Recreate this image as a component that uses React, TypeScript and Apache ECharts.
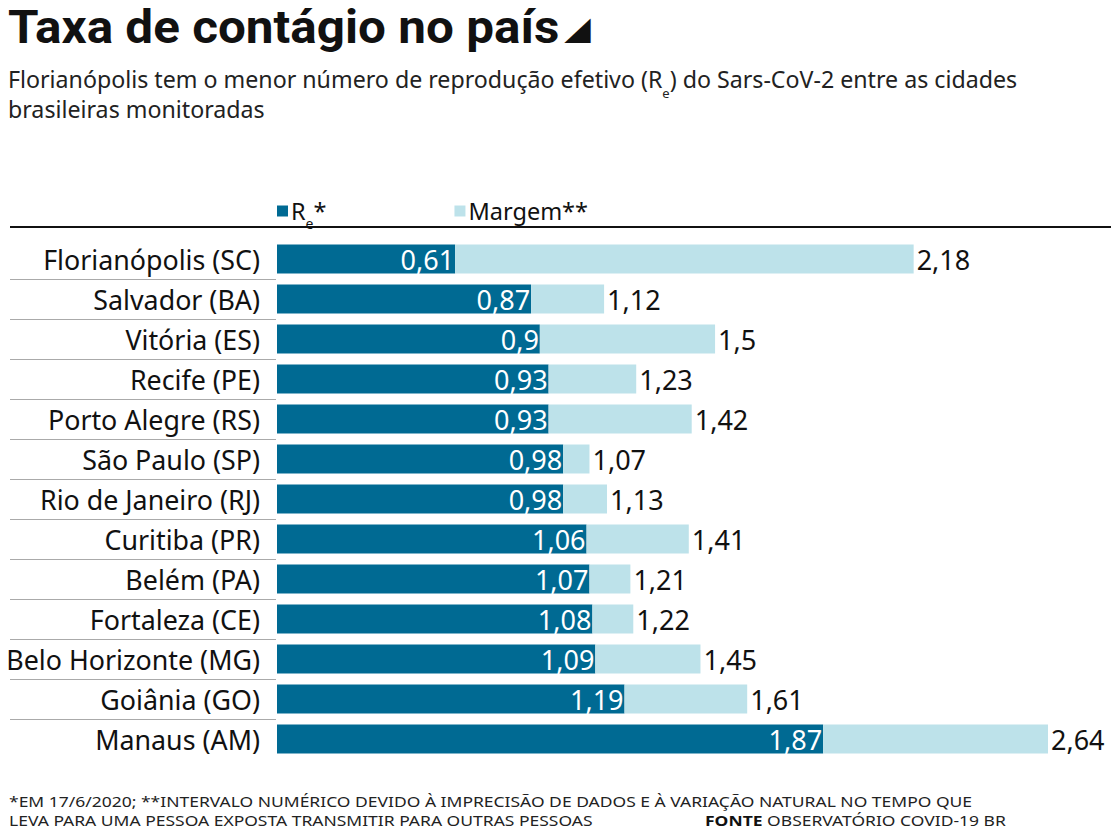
import React, { useEffect, useRef } from "react";
import * as echarts from "echarts";

const cities = [
  "Florianópolis (SC)",
  "Salvador (BA)",
  "Vitória (ES)",
  "Recife (PE)",
  "Porto Alegre (RS)",
  "São Paulo (SP)",
  "Rio de Janeiro (RJ)",
  "Curitiba (PR)",
  "Belém (PA)",
  "Fortaleza (CE)",
  "Belo Horizonte (MG)",
  "Goiânia (GO)",
  "Manaus (AM)",
];
const reValues = [0.61, 0.87, 0.9, 0.93, 0.93, 0.98, 0.98, 1.06, 1.07, 1.08, 1.09, 1.19, 1.87];
const upperValues = [2.18, 1.12, 1.5, 1.23, 1.42, 1.07, 1.13, 1.41, 1.21, 1.22, 1.45, 1.61, 2.64];

const titleText = "Taxa de contágio no país";
const footLine1 = "*EM 17/6/2020; **INTERVALO NUMÉRICO DEVIDO À IMPRECISÃO DE DADOS E À VARIAÇÃO NATURAL NO TEMPO QUE";
const footLine2 = "LEVA PARA UMA PESSOA EXPOSTA TRANSMITIR PARA OUTRAS PESSOAS";
const sourceText = "OBSERVATÓRIO COVID-19 BR";

const FONT = "'Noto Sans', sans-serif";
const TITLE_FONT = "Roboto, sans-serif";
const fmt = (v: number) => String(v).replace(".", ",");

export default function App() {
  const ref = useRef<HTMLDivElement>(null);
  useEffect(() => {
    if (!ref.current) return;
    const chart = echarts.init(ref.current, null, { renderer: "svg" });
    const margin = upperValues.map((u, i) => Math.round((u - reValues[i]) * 100) / 100);
    const footStyle = {
      fontFamily: FONT,
      fontSize: 17.5,
      fill: "#222",
      lineHeight: 18,
      textVerticalAlign: "middle",
      textAlign: "left",
    };
    chart.setOption({
      animation: false,
      backgroundColor: "#ffffff",
      textStyle: { fontFamily: FONT },
      title: [
        {
          left: 3,
          top: 62,
          text:
            "{a|Florianópolis tem o menor número de reprodução efetivo (R}{s|e}{a|) do Sars-CoV-2 entre as cidades}\n{a|brasileiras monitoradas}",
          textStyle: {
            fontWeight: "normal",
            rich: {
              a: { fontFamily: FONT, fontSize: 23.2, fontWeight: "normal", color: "#222", lineHeight: 30, verticalAlign: "top" },
              s: { fontFamily: FONT, fontSize: 13, fontWeight: "normal", color: "#222", lineHeight: 13, verticalAlign: "top", padding: [19, 0, 0, 0] },
            },
          },
        },
      ],
      legend: {
        left: 272,
        top: 194,
        icon: "rect",
        itemWidth: 11,
        itemHeight: 11,
        itemGap: 128,
        data: ["Re", "Margem"],
        formatter: (name: string) => (name === "Re" ? "{a|R}{s|e}{a|*}" : "{a|Margem**}"),
        textStyle: {
          padding: [0, 0, 0, -2],
          rich: {
            a: { fontFamily: FONT, fontSize: 23.5, color: "#111", lineHeight: 24, verticalAlign: "top" },
            s: { fontFamily: FONT, fontSize: 14, color: "#111", lineHeight: 13, verticalAlign: "top", padding: [17, 0, 0, 0] },
          },
        },
      },
      graphic: [
        {
          type: "text",
          x: 8,
          y: 4,
          scaleX: 1.075,
          silent: true,
          style: {
            text: "{t|" + titleText + "}{sp| }{tri|◢}",
            textVerticalAlign: "top",
            textAlign: "left",
            rich: {
              t: { fontFamily: TITLE_FONT, fontSize: 46, fontWeight: "bold", fill: "#111", lineHeight: 48 },
              sp: { fontFamily: TITLE_FONT, fontSize: 18, fontWeight: "normal", lineHeight: 48 },
              tri: { fontFamily: "'DejaVu Sans'", fontSize: 32, fontWeight: "normal", fill: "#111", lineHeight: 48 },
            },
          },
        },
        {
          type: "line",
          shape: { x1: 10, y1: 227, x2: 1111, y2: 227 },
          style: { stroke: "#111", lineWidth: 2 },
          silent: true,
        },
        { type: "text", x: 9, y: 802, scaleY: 0.8, silent: true, style: { ...footStyle, text: footLine1 } },
        { type: "text", x: 9, y: 821, scaleY: 0.8, silent: true, style: { ...footStyle, text: footLine2 } },
        {
          type: "text",
          x: 705,
          y: 821,
          scaleY: 0.8,
          silent: true,
          style: {
            ...footStyle,
            text: "{b|FONTE} {a|" + sourceText + "}",
            rich: {
              a: { fontFamily: FONT, fontSize: 17.5, fill: "#222", lineHeight: 18 },
              b: { fontFamily: FONT, fontSize: 17.5, fontWeight: "bold", fill: "#111", lineHeight: 18 },
            },
          },
        },
      ],
      grid: { left: 277, top: 239, width: 771, height: 520, containLabel: false },
      xAxis: {
        type: "value",
        min: 0,
        max: 2.64,
        show: false,
        splitLine: { show: false },
      },
      yAxis: {
        type: "category",
        inverse: true,
        data: cities,
        axisLine: { show: false },
        axisTick: { show: false },
        axisLabel: { fontFamily: FONT, fontSize: 26.8, color: "#111", margin: 17 },
      },
      series: [
        {
          name: "Re",
          type: "bar",
          stack: "a",
          barWidth: 29,
          data: reValues,
          itemStyle: { color: "#006a93" },
          label: {
            show: true,
            position: "insideRight",
            distance: 1,
            color: "#ffffff",
            fontFamily: FONT,
            fontSize: 27,
            formatter: (p: any) => fmt(p.value),
          },
        },
        {
          name: "Margem",
          type: "bar",
          stack: "a",
          barWidth: 29,
          data: margin,
          itemStyle: { color: "#bde2ea" },
          label: {
            show: true,
            position: "right",
            distance: 3,
            color: "#111",
            fontFamily: FONT,
            fontSize: 27,
            formatter: (p: any) => fmt(upperValues[p.dataIndex]),
          },
        },
        {
          name: "sep",
          type: "custom",
          silent: true,
          clip: false,
          data: cities.slice(0, -1).map((c) => [0, c]),
          encode: { x: 0, y: 1 },
          renderItem: (params: any, api: any) => {
            const idx = api.value(1);
            const c = api.coord([0, idx]);
            const h = api.size([0, 1])[1];
            const y = Math.round(c[1] + h / 2) + 0.5;
            return {
              type: "line",
              shape: { x1: 10, y1: y, x2: params.coordSys.x - 1, y2: y },
              style: { stroke: "#aaaaaa", lineWidth: 1 },
            };
          },
        },
      ],
    });
    return () => chart.dispose();
  }, []);
  return <div ref={ref} style={{ width: 1117, height: 833, position: "absolute", left: 0, top: 0 }} />;
}
